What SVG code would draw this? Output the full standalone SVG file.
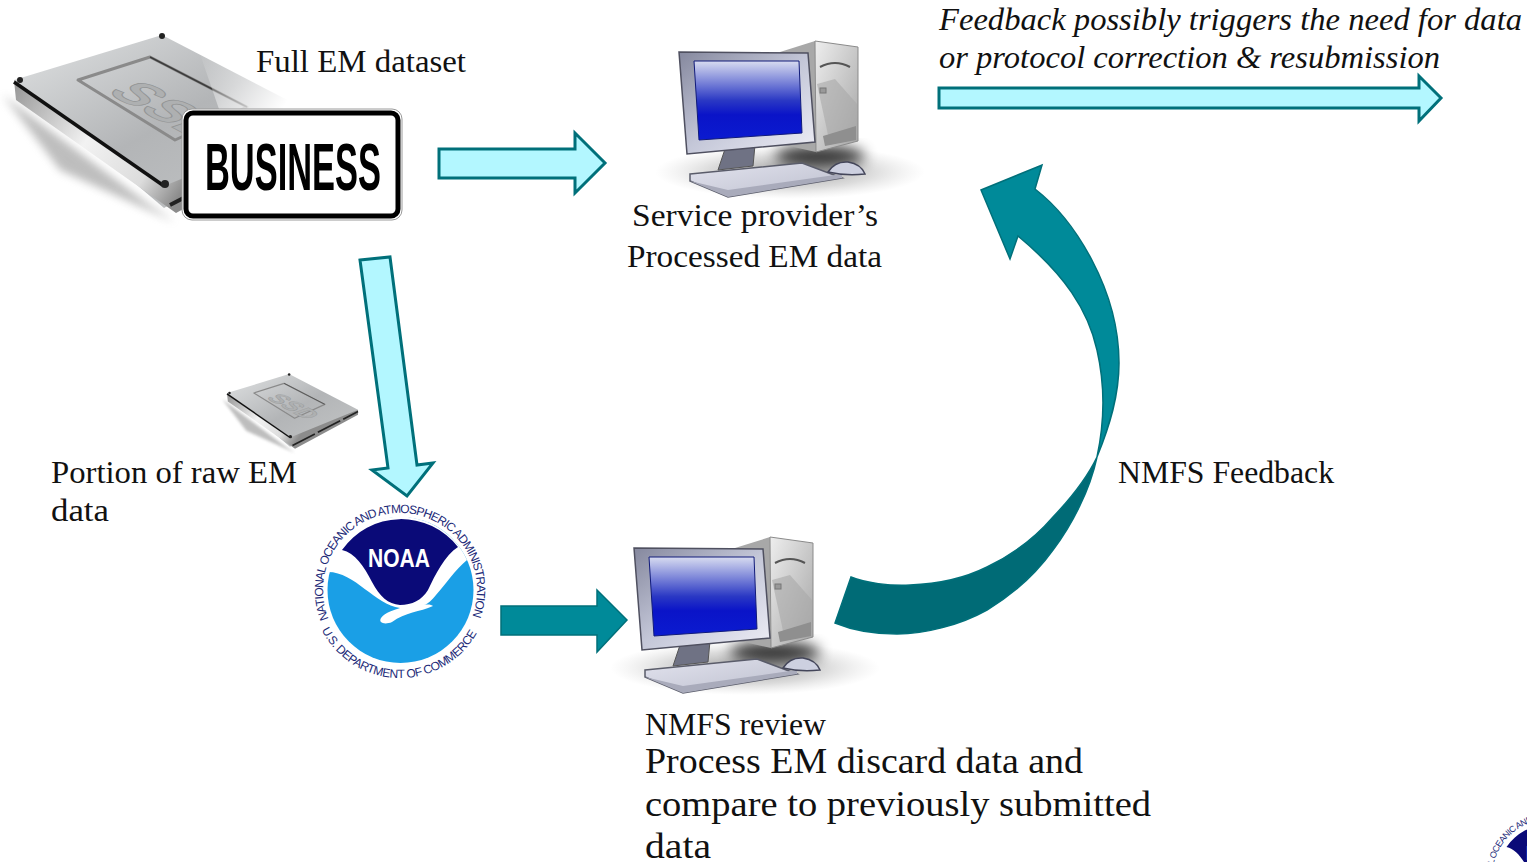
<svg xmlns="http://www.w3.org/2000/svg" xmlns:xlink="http://www.w3.org/1999/xlink" width="1527" height="862" viewBox="0 0 1527 862">
<style>
.t{font-family:"Liberation Serif","Times New Roman",serif;font-size:32px;fill:#111}
.i{font-style:italic}
.b{font-size:35px}
.light{fill:#b3f7ff;stroke:#00707a;stroke-width:3;stroke-linejoin:miter}
.teal{fill:#008a99;stroke:#00707a;stroke-width:1.5}
.dark{fill:#006b76;stroke:#00707a;stroke-width:1.5}
.ring{font-family:"Liberation Sans",Arial,sans-serif;font-size:12px;fill:#1c2a78}
</style>
<defs>
<linearGradient id="scr" x1="0" y1="0" x2="0" y2="1"><stop offset="0" stop-color="#d8dcf0"/><stop offset=".5" stop-color="#2a38c4"/><stop offset=".68" stop-color="#0a14c8"/><stop offset="1" stop-color="#0b1bd0"/></linearGradient>
<linearGradient id="bez" x1="0" y1="0" x2="1" y2="1"><stop offset="0" stop-color="#85889e"/><stop offset=".5" stop-color="#c4c7d8"/><stop offset="1" stop-color="#eeeef6"/></linearGradient>
<linearGradient id="tow" x1="0" y1="0" x2="1" y2="1"><stop offset="0" stop-color="#eeeeee"/><stop offset=".6" stop-color="#c2c2c2"/><stop offset="1" stop-color="#a4a4a4"/></linearGradient>
<linearGradient id="key" x1="0" y1="0" x2="1" y2="1"><stop offset="0" stop-color="#e2e3ee"/><stop offset="1" stop-color="#bcbecd"/></linearGradient>
<radialGradient id="shd"><stop offset="0" stop-color="#555" stop-opacity=".6"/><stop offset=".6" stop-color="#999" stop-opacity=".35"/><stop offset="1" stop-color="#bbb" stop-opacity="0"/></radialGradient>
<linearGradient id="plate" x1="0" y1="0" x2="1" y2="1"><stop offset="0" stop-color="#e0e2e3"/><stop offset=".5" stop-color="#b3b5b7"/><stop offset="1" stop-color="#c4c6c7"/></linearGradient>
<linearGradient id="chrome" gradientUnits="userSpaceOnUse" x1="14" y1="90" x2="176" y2="200"><stop offset="0" stop-color="#9a9a9a"/><stop offset=".45" stop-color="#f2f2f2"/><stop offset=".8" stop-color="#dcdcdc"/><stop offset="1" stop-color="#8c8c8c"/></linearGradient>
<linearGradient id="fade" gradientUnits="userSpaceOnUse" x1="200" y1="50" x2="285" y2="105"><stop offset="0" stop-color="#fff" stop-opacity="0"/><stop offset="1" stop-color="#fff"/></linearGradient>
<filter id="blur" x="-20%" y="-20%" width="140%" height="140%"><feGaussianBlur stdDeviation="4"/></filter>
<filter id="blur2" x="-30%" y="-30%" width="160%" height="160%"><feGaussianBlur stdDeviation="7"/></filter>
<filter id="soft"><feGaussianBlur stdDeviation=".5"/></filter>
<symbol id="ssd" overflow="visible" viewBox="0 0 10 10" width="10" height="10">
<path d="M3,95 L150,205 L175,222 L60,170Z" fill="#888" opacity=".55" filter="url(#blur)"/>
<path d="M14,80 L162,35 L326,120 L164,208Z" fill="url(#plate)"/>
<path d="M14,80 L164,186 L326,120 L326,132 L176,213 L16,100Z" fill="url(#chrome)"/>
<path d="M14,82 L164,186" fill="none" stroke="#111" stroke-width="3.500"/>
<path d="M170,205 L326,124" fill="none" stroke="#222" stroke-width="4" stroke-dasharray="60 8"/>
<path d="M78,80 L150,57 L247,107 L175,140Z" fill="none" stroke="#8a8a8a" stroke-width="3" stroke-linejoin="round"/>
<path d="M150,57 L247,107" fill="none" stroke="#3c3c3c" stroke-width="1.500"/>
<text transform="matrix(.85 .45 -.95 .32 105 92)" font-family="Liberation Sans,sans-serif" font-weight="bold" font-size="56" fill="#aeb0b1" stroke="#929495" stroke-width="1">SSD</text>
<circle cx="20" cy="80" r="3" fill="#222"/><circle cx="162" cy="36" r="3" fill="#222"/><circle cx="165" cy="184" r="4" fill="#222"/>
</symbol>
<symbol id="pc" overflow="visible" viewBox="0 0 10 10" width="10" height="10">
<ellipse cx="745" cy="668" rx="135" ry="27" fill="url(#shd)"/>
<ellipse cx="775" cy="652" rx="45" ry="11" fill="#000" opacity=".75" filter="url(#blur2)"/>
<path d="M735,548 L770,537 L771,648 L735,640Z" fill="#a8a8a8"/>
<path d="M770,537 L813,543 L813,637 L771,648Z" fill="url(#tow)" stroke="#8b8b8b"/>
<path d="M772,580 L790,575 L812,600 L812,636 L785,640Z" fill="#a9a9a9" opacity=".6"/>
<path d="M775,563 Q790,555 805,563" fill="none" stroke="#555" stroke-width="2"/>
<rect x="775" y="584" width="6" height="5" fill="#999" stroke="#777"/>
<path d="M778,632 L811,622 L811,636 L780,642Z" fill="#8f8f8f"/>
<path d="M680,645 L710,641 L708,662 L673,666Z" fill="#6f7284" stroke="#555"/>
<path d="M634,548 L763,549 L770,638 L642,650Z" fill="url(#bez)" stroke="#4f5060" stroke-width="1.500"/>
<path d="M649,557 L754,557 L757,629 L654,636Z" fill="url(#scr)" stroke="#101a7a"/>
<path d="M645,670 L757,659 L797,674 L683,693 L645,677Z" fill="url(#key)" stroke="#5a5c6a" stroke-width="1.500"/>
<path d="M645,677 L683,693 L797,674 L797,670 L683,686Z" fill="#a9abbb"/>
<path d="M783,668 Q790,657 803,658 Q816,660 820,670 Q800,672 783,668Z" fill="#cdd0e0" stroke="#44465a" stroke-width="1.500"/>
</symbol>
<symbol id="noaa" overflow="visible" viewBox="0 0 10 10" width="10" height="10">
<path id="rt" d="M328.600,618.800 A77,77 0 1 1 471.400,618.800" fill="none"/>
<path id="rb" d="M321.600,630 A88,88 0 0 0 478.400,630" fill="none"/>
<circle cx="400.500" cy="590" r="73" fill="#1a9fe6"/>
<path d="M328,572 A74,74 0 0 1 467,560 C455,570 445,585 436,595 C432,600 428,604 424,605 C428,604 432,605 433,606 C420,612 405,612 392,622 C385,625 378,623 381,618 C385,612 395,610 400,608 C375,605 355,572 328,572Z" fill="#fff"/>
<path d="M342,550 A72,72 0 0 1 458,547 C445,555 435,575 428,590 C422,600 412,605 400,605 C388,604 380,597 372,582 C364,566 355,553 342,550Z" fill="#0a0a78"/>
<text x="399" y="567" text-anchor="middle" textLength="62" lengthAdjust="spacingAndGlyphs" font-family="Liberation Sans,sans-serif" font-weight="bold" font-size="26" fill="#fff">NOAA</text>
<text class="ring"><textPath href="#rt" xlink:href="#rt" textLength="298" lengthAdjust="spacing">NATIONAL OCEANIC AND ATMOSPHERIC ADMINISTRATION</textPath></text>
<text class="ring"><textPath href="#rb" xlink:href="#rb" textLength="190" lengthAdjust="spacing">U.S. DEPARTMENT OF COMMERCE</textPath></text>
</symbol>
</defs>
<rect width="1527" height="862" fill="#fff"/>

<g id="connectors">
<path id="c-process" class="light" d="M439,149 H575 V133 L605,163 L575,193 V178 H439Z"/>
<path id="c-feedback-out" class="light" d="M939,88 H1419 V76 L1441,98 L1419,121 V108 H939Z"/>
<path id="c-portion" class="light" d="M360,260 L390,257 L417,465 L433,463 L407,496 L372,470 L388,468Z"/>
<path id="c-review" class="teal" d="M501,606 H597 V590 L627,620 L597,652 V635 H501Z"/>
<path id="c-curve-upper" class="teal" d="M1097,457 C1105,420 1105,385 1097,350 C1088,310 1065,275 1018,236 L1010,259 L981,190 L1042,165 L1035,189 C1075,220 1119,290 1119,363 C1119,395 1110,425 1097,457Z"/>
<path id="c-curve-lower" class="dark" d="M851,577 C865,583 890,586 910,585 C940,584 965,578 987,567 C1010,556 1035,538 1053,517 C1072,497 1087,478 1097,457 C1090,490 1072,525 1053,550 C1035,575 1012,595 987,610 C960,625 925,634 897,634 C875,634 852,630 835,623Z"/>
</g>

<g id="node-full-dataset">
<use href="#ssd" xlink:href="#ssd"/>
<path d="M190,25 L340,110 L340,135 L240,170 Z" fill="url(#fade)"/>
<rect x="182" y="109" width="220" height="111" rx="10" fill="#fff" stroke="#9a9a9a" stroke-width="1"/>
<rect x="186" y="113" width="212" height="103" rx="7" fill="#fff" stroke="#000" stroke-width="5"/>
<text x="205" y="190" textLength="176" lengthAdjust="spacingAndGlyphs" font-family="Liberation Sans,Arial,sans-serif" font-weight="bold" font-size="67" fill="#000">BUSINESS</text>
<text class="t" x="256" y="72" textLength="210" lengthAdjust="spacingAndGlyphs">Full EM dataset</text>
</g>

<g id="node-service-provider">
<use href="#pc" xlink:href="#pc" transform="translate(45,-496)"/>
<text class="t" x="632" y="226" textLength="246" lengthAdjust="spacingAndGlyphs">Service provider’s</text>
<text class="t" x="627" y="267" textLength="255" lengthAdjust="spacingAndGlyphs">Processed EM data</text>
</g>

<g id="node-feedback-note">
<text class="t i" x="939" y="30" textLength="583" lengthAdjust="spacingAndGlyphs">Feedback possibly triggers the need for data</text>
<text class="t i" x="939" y="68" textLength="501" lengthAdjust="spacingAndGlyphs">or protocol correction &amp; resubmission</text>
</g>

<g id="node-portion">
<use href="#ssd" xlink:href="#ssd" transform="translate(221.100,359.400) scale(.42)"/>
<text class="t" x="51" y="483" textLength="246" lengthAdjust="spacingAndGlyphs">Portion of raw EM</text>
<text class="t" x="51" y="521" textLength="58" lengthAdjust="spacingAndGlyphs">data</text>
</g>

<g id="node-noaa">
<use href="#noaa" xlink:href="#noaa"/>
</g>

<g id="node-nmfs-review">
<use href="#pc" xlink:href="#pc"/>
<text class="t" x="645" y="735" textLength="181" lengthAdjust="spacingAndGlyphs">NMFS review</text>
<text class="t b" x="645" y="773" textLength="438" lengthAdjust="spacingAndGlyphs">Process EM discard data and</text>
<text class="t b" x="645" y="816" textLength="506" lengthAdjust="spacingAndGlyphs">compare to previously submitted</text>
<text class="t b" x="645" y="858" textLength="66" lengthAdjust="spacingAndGlyphs">data</text>
</g>

<g id="node-feedback-label">
<text class="t" x="1118" y="483" textLength="216" lengthAdjust="spacingAndGlyphs">NMFS Feedback</text>
</g>

<g id="node-corner-logo">
<use href="#noaa" xlink:href="#noaa" transform="translate(1250,434.500) scale(.75)"/>
</g>
</svg>
